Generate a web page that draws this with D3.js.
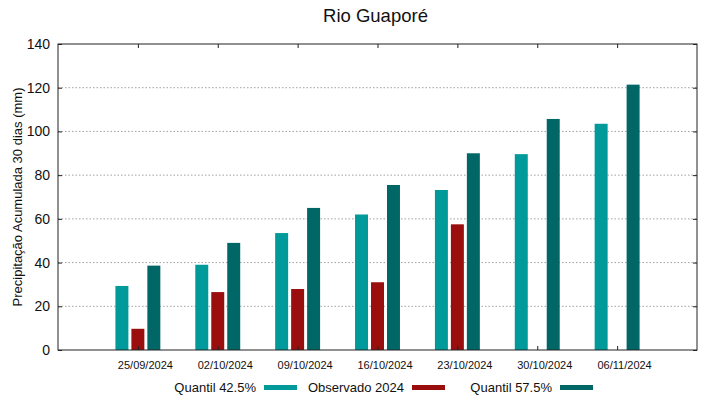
<!DOCTYPE html>
<html>
<head>
<meta charset="utf-8">
<script src="https://cdn.jsdelivr.net/npm/d3@7"></script>
<style>
  body { margin: 0; background: #fff; }
  svg { display: block; font-family: "Liberation Sans", Arial, sans-serif; }
</style>
</head>
<body>
<div id="chart"></div>
<script>
// ---- data ----
const dates = ["25/09/2024", "02/10/2024", "09/10/2024", "16/10/2024", "23/10/2024", "30/10/2024", "06/11/2024"];
const q425 = [29.3, 39.0, 53.5, 62.0, 73.2, 89.6, 103.5];
const observed = [9.7, 26.5, 27.9, 31.0, 57.5, null, null];
const q575 = [38.6, 49.0, 65.0, 75.5, 90.0, 105.7, 121.4];
const yTicks = [0, 20, 40, 60, 80, 100, 120, 140];

const series = [
  { name: "Quantil 42.5%", values: q425, color: "#009a9a", offset: -0.2 },
  { name: "Observado 2024", values: observed, color: "#9b0e0e", offset: 0 },
  { name: "Quantil 57.5%", values: q575, color: "#006666", offset: 0.2 }
];

const W = 719, H = 399;
const margin = { top: 44, right: 22, bottom: 49, left: 58 };
const width = W - margin.left - margin.right;
const height = H - margin.top - margin.bottom;

const svg = d3.select("#chart").append("svg")
  .attr("width", W).attr("height", H);

const g = svg.append("g")
  .attr("transform", `translate(${margin.left},${margin.top})`);

// x positions 1..7 on a 0..8 range
const x = d3.scaleLinear().domain([0, dates.length + 1]).range([0, width]);
const y = d3.scaleLinear().domain([0, 140]).range([height, 0]);
const barW = x(0.1625) - x(0);

// dotted grid
g.append("g")
  .selectAll("line")
  .data(yTicks.filter(d => d > 0 && d < 140))
  .enter().append("line")
  .attr("x1", 0).attr("x2", width)
  .attr("y1", d => y(d)).attr("y2", d => y(d))
  .attr("stroke", "#a0a0a0")
  .attr("stroke-width", 1)
  .attr("stroke-dasharray", "1.5,2");

// bars
series.forEach(s => {
  g.append("g")
    .selectAll("rect")
    .data(s.values.map((v, i) => ({ v, i })).filter(d => d.v != null))
    .enter().append("rect")
    .attr("x", d => x(d.i + 1 + s.offset) - barW / 2)
    .attr("y", d => y(d.v))
    .attr("width", barW)
    .attr("height", d => y(0) - y(d.v))
    .attr("fill", s.color);
});

// y axis (ticks inward, mirrored on the right)
const yAxis = d3.axisLeft(y).tickValues(yTicks).tickSize(-4).tickPadding(10);
const yAxisG = g.append("g").call(yAxis);
yAxisG.select(".domain").remove();
yAxisG.selectAll(".tick text")
  .attr("font-size", 14).attr("font-family", "Liberation Sans, Arial, sans-serif")
  .attr("fill", "#111").attr("x", -8);
yAxisG.selectAll(".tick line").attr("stroke", "#222");

const yAxisR = g.append("g").attr("transform", `translate(${width},0)`)
  .call(d3.axisRight(y).tickValues(yTicks).tickSize(-4).tickFormat(""));
yAxisR.select(".domain").remove();
yAxisR.selectAll(".tick line").attr("stroke", "#222");

// x axis (ticks inward, mirrored on top)
const xTickVals = dates.map((d, i) => i + 1);
const xAxis = d3.axisBottom(x).tickValues(xTickVals)
  .tickFormat(d => dates[d - 1]).tickSize(-4).tickPadding(12);
const xAxisG = g.append("g").attr("transform", `translate(0,${height})`).call(xAxis);
xAxisG.select(".domain").remove();
xAxisG.selectAll(".tick text")
  .attr("font-size", 11).attr("font-family", "Liberation Sans, Arial, sans-serif")
  .attr("fill", "#111").attr("y", 11).attr("dx", 7);
xAxisG.selectAll(".tick line").attr("stroke", "#222");

const xAxisT = g.append("g")
  .call(d3.axisTop(x).tickValues(xTickVals).tickSize(-4).tickFormat(""));
xAxisT.select(".domain").remove();
xAxisT.selectAll(".tick line").attr("stroke", "#222");

// frame
g.append("rect")
  .attr("x", 0).attr("y", 0)
  .attr("width", width).attr("height", height)
  .attr("fill", "none").attr("stroke", "#222").attr("stroke-width", 1);

// title
svg.append("text")
  .attr("x", margin.left + width / 2 - 2).attr("y", 22)
  .attr("text-anchor", "middle")
  .attr("font-size", 18.5).attr("fill", "#111")
  .text("Rio Guaporé");

// y label
svg.append("text")
  .attr("transform", `translate(22,${margin.top + height / 2}) rotate(-90)`)
  .attr("text-anchor", "middle")
  .attr("font-size", 13).attr("fill", "#111")
  .text("Precipitação Acumulada 30 dias (mm)");

// legend
const legendX = [256, 404, 552];
const legend = svg.append("g");
series.forEach((s, i) => {
  legend.append("text")
    .attr("x", legendX[i]).attr("y", 392)
    .attr("text-anchor", "end")
    .attr("font-size", 13).attr("fill", "#111")
    .text(s.name);
  legend.append("rect")
    .attr("x", legendX[i] + 8).attr("y", 385)
    .attr("width", 33).attr("height", 5)
    .attr("fill", s.color);
});
</script>
</body>
</html>
